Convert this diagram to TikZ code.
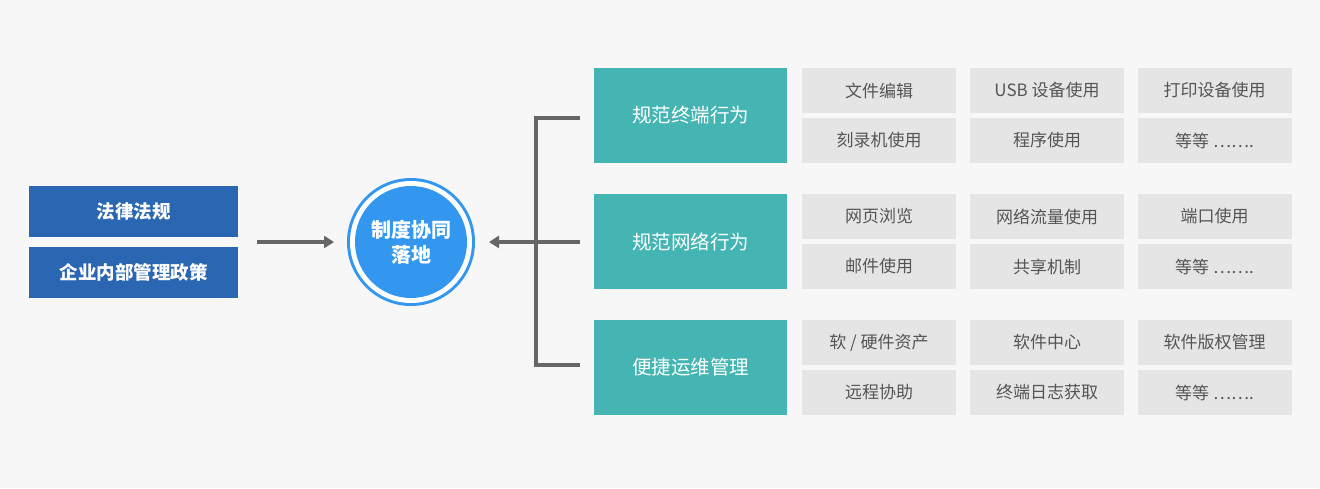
\documentclass[tikz,border=0pt]{standalone}
\usepackage{fontspec}
\newfontfamily\cjk{Noto Sans CJK SC}
\usetikzlibrary{arrows.meta}
\definecolor{bg}{HTML}{F7F7F7}
\definecolor{dblue}{HTML}{2A66B2}
\definecolor{teal1}{HTML}{45B5B4}
\definecolor{cellg}{HTML}{E5E5E5}
\definecolor{txtg}{HTML}{555555}
\definecolor{cblue}{HTML}{3397F0}
\definecolor{lineg}{HTML}{666666}
\begin{document}
\begin{tikzpicture}[x=1pt,y=-1pt,font=\cjk,
 lbox/.style={fill=dblue,text=white,font=\cjk\bfseries\fontsize{18.5}{22}\selectfont,minimum width=209pt,minimum height=51pt,inner sep=0},
 tbox/.style={fill=teal1,text=white,font=\cjk\fontsize{19.5}{23}\selectfont,minimum width=193pt,minimum height=95pt,inner sep=0},
 cell/.style={fill=cellg,text=txtg,font=\cjk\fontsize{17}{20}\selectfont,minimum width=154pt,minimum height=45pt,inner sep=0},
 ln/.style={draw=lineg,line width=3.5pt},
 arr/.style={ln,-{Triangle[length=10pt,width=12pt]}}]
\fill[bg] (0,0) rectangle (1320,488);
\useasboundingbox (0,0) rectangle (1320,488);
\node[lbox] (l1) at (133.5,211.5) {法律法规};
\node[lbox] (l2) at (133.5,272.5) {企业内部管理政策};
\fill[cblue] (411,242) circle (64);
\fill[white] (411,242) circle (61);
\node[circle,fill=cblue,minimum size=112pt,inner sep=0,text=white,align=center,font=\cjk\bfseries\fontsize{20}{25}\selectfont] (c) at (411,242) {制度协同\\落地};
\coordinate (a0) at (257,242);
\coordinate (a1) at (334,242);
\draw[arr] (a0) -- (a1);
\coordinate (t1) at (580,118);
\coordinate (t2) at (580,242);
\coordinate (t3) at (580,365);
\coordinate (b1) at (536,118);
\coordinate (b3) at (536,365);
\coordinate (h) at (489,242);
\draw[ln] (t1) -- (b1) -- (b3) -- (t3);
\draw[arr] (t2) -- (h);
\node[tbox] (g1) at (690.5,115.5) {规范终端行为};
\node[tbox] (g2) at (690.5,241.5) {规范网络行为};
\node[tbox] (g3) at (690.5,367.5) {便捷运维管理};
\foreach \y/\a/\b/\c/\d/\e/\f [count=\i] in {
 68/文件编辑/{USB 设备使用}/打印设备使用/刻录机使用/程序使用/{等等 …….},
 194/网页浏览/网络流量使用/端口使用/邮件使用/共享机制/{等等 …….},
 320/{软 / 硬件资产}/软件中心/软件版权管理/远程协助/终端日志获取/{等等 …….}}{
 \node[cell] (c\i a) at (879,\y+22.5) {\a};
 \node[cell] (c\i b) at (1047,\y+22.5) {\b};
 \node[cell] (c\i c) at (1214.5,\y+22.5) {\c};
 \node[cell] (c\i d) at (879,\y+72.5) {\d};
 \node[cell] (c\i e) at (1047,\y+72.5) {\e};
 \node[cell] (c\i f) at (1214.5,\y+72.5) {\f};
}
\end{tikzpicture}
\end{document}
